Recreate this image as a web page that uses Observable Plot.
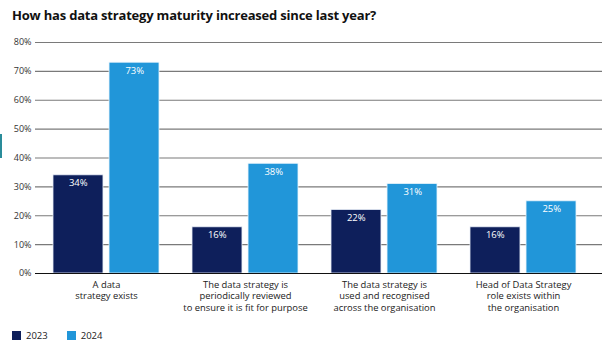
<!DOCTYPE html>
<html><head><meta charset="utf-8">
<script src="https://cdn.jsdelivr.net/npm/d3@7"></script>
<script src="https://cdn.jsdelivr.net/npm/@observablehq/plot@0.6"></script>
<style>
body{margin:0;background:#fff;font-family:"Open Sans",sans-serif;width:614px;height:362px;position:relative;overflow:hidden}
#title{position:absolute;left:12px;top:6px;font-size:13px;font-weight:700;color:#111;letter-spacing:-0.2px}
#chart{position:absolute;left:0;top:30px}
#legend{position:absolute;left:12px;top:329px;font-size:9.5px;color:#222;display:flex;gap:0}
.li{display:flex;align-items:center;margin-right:19px}
.sw{width:9px;height:9px;margin-right:5px}
#mark{position:absolute;left:0;top:134px;width:2px;height:24px;background:#2a8c9a}
</style></head>
<body>
<div id="title">How has data strategy maturity increased since last year?</div>
<div id="mark"></div>
<div id="chart"></div>
<div id="legend"></div>
<script>
const categories = [
  "A data\nstrategy exists",
  "The data strategy is\nperiodically reviewed\nto ensure it is fit for purpose",
  "The data strategy is\nused and recognised\nacross the organisation",
  "Head of Data Strategy\nrole exists within\nthe organisation"
];
const series = ["2023", "2024"];
const values2023 = [34, 16, 22, 16];
const values2024 = [73, 38, 31, 25];
const yTicks = [0, 10, 20, 30, 40, 50, 60, 70, 80];
const colors = ["#0e1f5b", "#2196d9"];

const data = categories.flatMap((c, i) => [
  {category: c, year: "2023", value: values2023[i]},
  {category: c, year: "2024", value: values2024[i]}
]);
const d23 = data.filter(d => d.year === "2023");
const d24 = data.filter(d => d.year === "2024");

const W = 614, ML = 35, MR = 20, padIn = 0.234, padOut = 0.117;
const stepW = (W - ML - MR) / (categories.length - padIn + 2 * padOut);
const bw = stepW * (1 - padIn);
const half = bw / 2 + 2.5;

const chart = Plot.plot({
  width: W, height: 290,
  marginLeft: ML, marginRight: MR, marginTop: 12, marginBottom: 47,
  style: {fontFamily: "Open Sans, sans-serif", fontSize: "9px", color: "#333", background: "transparent"},
  x: {domain: categories, paddingInner: padIn, paddingOuter: padOut, label: null, axis: null},
  y: {domain: [0, 80], ticks: yTicks, tickFormat: d => d + "%", label: null, tickSize: 0, tickPadding: 4},
  color: {domain: series, range: colors},
  marks: [
    Plot.ruleY(yTicks.filter(t => t > 0), {stroke: "#7a7a7a", strokeWidth: 1.2, insetRight: -8}),
    Plot.barY(d23, {x: "category", y: "value", fill: d => d.year, insetRight: half, stroke: "#e8eef8", strokeWidth: 0.8}),
    Plot.barY(d24, {x: "category", y: "value", fill: d => d.year, insetLeft: half, stroke: "#e8f4fc", strokeWidth: 0.8}),
    Plot.ruleY([0], {stroke: "#111", strokeWidth: 1.2, insetRight: -8}),
    Plot.axisX({tickSize: 0, tickPadding: 7, fontSize: 9.4, lineHeight: 1.18, fill: "#222", label: null}),
    Plot.text(d23, {x: "category", y: "value", text: d => d.value + "%", dx: -half/2 - 0.25, dy: 8, fill: "white", fontSize: 9.5, fontWeight: 500}),
    Plot.text(d24, {x: "category", y: "value", text: d => d.value + "%", dx: half/2 + 0.25, dy: 8, fill: "white", fontSize: 9.5, fontWeight: 500})
  ]
});
document.getElementById("chart").appendChild(chart);

const leg = document.getElementById("legend");
series.forEach((s, i) => {
  const li = document.createElement("div"); li.className = "li";
  const sw = document.createElement("div"); sw.className = "sw"; sw.style.background = colors[i];
  const t = document.createElement("span"); t.textContent = s;
  li.appendChild(sw); li.appendChild(t); leg.appendChild(li);
});
</script>
</body></html>
